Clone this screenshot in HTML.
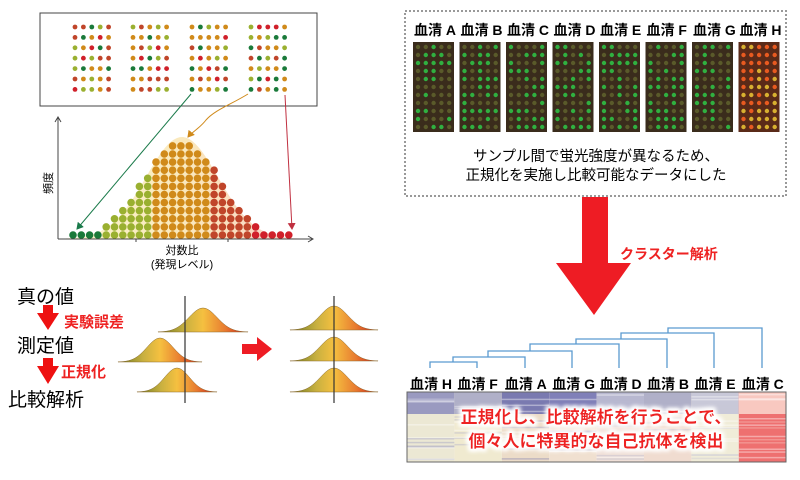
<!DOCTYPE html>
<html><head><meta charset="utf-8">
<style>
html,body{margin:0;padding:0;background:#fff;}
body{width:800px;height:475px;overflow:hidden;font-family:"Liberation Sans","Noto Sans CJK JP",sans-serif;}
svg text{font-family:"Liberation Sans","Noto Sans CJK JP",sans-serif;}
</style></head><body>
<svg id="s" width="800" height="475" viewBox="0 0 800 475" xmlns="http://www.w3.org/2000/svg">
<defs>
<linearGradient id="cg" x1="0" x2="1" y1="0" y2="0">
<stop offset="0" stop-color="#6b7a20"/><stop offset="0.3" stop-color="#c8b040"/><stop offset="0.5" stop-color="#f5c040"/><stop offset="0.75" stop-color="#e87a30"/><stop offset="1" stop-color="#d01818"/>
</linearGradient>
<linearGradient id="hb" x1="0" x2="1" y1="0" y2="0">
<stop offset="0" stop-color="#f6efb0"/><stop offset="0.5" stop-color="#f8dc98"/><stop offset="1" stop-color="#f5b8a8"/>
</linearGradient>
<filter id="glow"><feMorphology operator="dilate" radius="2" in="SourceAlpha" result="d"/><feGaussianBlur in="d" stdDeviation="2" result="b"/><feFlood flood-color="#fff"/><feComposite in2="b" operator="in"/><feMerge><feMergeNode/><feMergeNode/><feMergeNode in="SourceGraphic"/></feMerge></filter>
<marker id="ag" markerWidth="8" markerHeight="8" refX="6" refY="4" orient="auto"><path d="M0,0 L7,4 L0,8z" fill="#1a7a4a"/></marker>
<marker id="ao" markerWidth="8" markerHeight="8" refX="6" refY="4" orient="auto"><path d="M0,0 L7,4 L0,8z" fill="#d08a1a"/></marker>
<marker id="ar" markerWidth="8" markerHeight="8" refX="6" refY="4" orient="auto"><path d="M0,0 L7,4 L0,8z" fill="#c03040"/></marker>
</defs>
<rect x="40" y="13" width="277" height="93" fill="#fff" stroke="#444" stroke-width="1"/>
<g id="tl"></g>
<path id="hbg" fill="url(#hb)" opacity="0.65"/>
<g id="hist"></g>
<line x1="58" y1="239" x2="58" y2="118" stroke="#444" stroke-width="1"/>
<path d="M55,122 L58,117 L61,122" fill="none" stroke="#444"/>
<line x1="58" y1="239" x2="312" y2="239" stroke="#444" stroke-width="1"/>
<path d="M308,236 L313,239 L308,242" fill="none" stroke="#444"/>
<line x1="136" y1="239" x2="136" y2="242" stroke="#444"/><line x1="228" y1="239" x2="228" y2="242" stroke="#444"/>
<text x="52" y="183" font-size="11" transform="rotate(-90 52 183)" text-anchor="middle">頻度</text>
<text x="182" y="254" font-size="11" text-anchor="middle">対数比</text>
<text x="182" y="268" font-size="11" text-anchor="middle">(発現レベル)</text>
<path d="M191,94 L77,229" stroke="#1a7a4a" stroke-width="1" fill="none" marker-end="url(#ag)"/>
<path d="M248,94 C230,105 215,110 206,120 C200,128 192,132 188,137" stroke="#d08a1a" stroke-width="1" fill="none" marker-end="url(#ao)"/>
<path d="M285,95 L292,229" stroke="#c03040" stroke-width="1" fill="none" marker-end="url(#ar)"/>

<text x="17" y="303" font-size="19">真の値</text>
<text x="17" y="352" font-size="19">測定値</text>
<text x="8" y="406" font-size="19">比較解析</text>
<path d="M43,305 L53,305 L53,313 L59,313 L48,330 L37,313 L43,313z" fill="#ee1111"/>
<path d="M43,358 L53,358 L53,366 L59,366 L48,384 L37,366 L43,366z" fill="#ee1111"/>
<text x="64" y="327" font-size="15" font-weight="bold" fill="#ee2222">実験誤差</text>
<text x="61" y="377" font-size="15" font-weight="bold" fill="#ee2222">正規化</text>
<g id="curves"></g>
<line x1="185" y1="296" x2="185" y2="403" stroke="#333" stroke-width="1.2"/>
<line x1="334" y1="296" x2="334" y2="403" stroke="#333" stroke-width="1.2"/>
<path d="M242,344 L257,344 L257,337 L272,349 L257,361 L257,354 L242,354z" fill="#ee1c24"/>

<rect x="405" y="11" width="381" height="185" fill="#fff" stroke="#999" stroke-width="2" stroke-dasharray="2,2"/>
<g id="rt"></g>
<text x="596" y="161" font-size="14.5" text-anchor="middle">サンプル間で蛍光強度が異なるため、</text>
<text x="596" y="180" font-size="14.5" text-anchor="middle">正規化を実施し比較可能なデータにした</text>
<path d="M582,197 L608,197 L608,263 L631,263 L594,315 L556,263 L582,263z" fill="#ee1c24"/>
<text x="620" y="259" font-size="14" font-weight="bold" fill="#ee2222">クラスター解析</text>
<g stroke="#5a9ad0" stroke-width="1.3" fill="none">
<path d="M430,368 V362 H477 V368"/>
<path d="M453,362 V357 H525 V368"/>
<path d="M488,357 V351 H572 V368"/>
<path d="M530,351 V344 H619 V368"/>
<path d="M576,344 V339 H667 V368"/>
<path d="M621,339 V333 H714 V368"/>
<path d="M668,333 V328 H762 V368"/>
</g>
<g id="hl"></g>
<g id="heat"></g>
<rect x="407" y="392" width="379" height="70" fill="none" stroke="#666" stroke-width="1"/>
<g filter="url(#glow)">
<text x="596" y="423" font-size="17" font-weight="bold" fill="#ee2222" text-anchor="middle">正規化し、比較解析を行うことで、</text>
<text x="596" y="447" font-size="17" font-weight="bold" fill="#ee2222" text-anchor="middle">個々人に特異的な自己抗体を検出</text>
</g>
</svg>
<script>
var NS="http://www.w3.org/2000/svg";
function el(p,t,a){var e=document.createElementNS(NS,t);for(var k in a)e.setAttribute(k,a[k]);document.getElementById(p).appendChild(e);return e;}
var pal=["#1a7a3a","#9ab030","#d08a1a","#c0452a","#d0202a","#d08a1a","#d08a1a"];
var seed=7;function rnd(){seed=(seed*9301+49297)%233280;return seed/233280;}
[75,133,192,251].forEach(function(x0){for(var r=0;r<7;r++)for(var c=0;c<5;c++){el("tl","circle",{cx:x0+c*8.4,cy:27+r*10.4,r:2.4,fill:pal[Math.floor(rnd()*7)]});}});
var d="M66,239";
for(var i=0;i<27;i++){var x=73+i*8.3;var z=(x-182)/38;var h=Math.max(1,Math.round(12.2*Math.exp(-z*z/2)));
 if(i<2)h=1;
 var col=x<106?"#1a7a3a":x<150?"#9ab030":x<212?"#d08a1a":x<252?"#c0452a":"#d0202a";
 for(var j=0;j<h;j++)el("hist","circle",{cx:x,cy:235-j*8.1,r:3.8,fill:col});}
for(var x=66;x<=300;x+=3){var z=(x-182)/36;d+=" L"+x+","+(239-102*Math.exp(-z*z/2));}
d+=" L300,239z";document.getElementById("hbg").setAttribute("d",d);
function curve(cx,by,w){var p="M"+(cx-w)+","+by;for(var t=-w;t<=w;t+=2){var z=t/(w/3.2);p+=" L"+(cx+t)+","+(by-24*Math.exp(-z*z/2));}p+=" L"+(cx+w)+","+by+"z";
 el("curves","path",{d:p,fill:"url(#cg)",stroke:"#8a6a30","stroke-width":"0.5"});}
curve(203,332,45);curve(160,362,42);curve(177,392,40);
curve(334,330,44);curve(334,361,44);curve(334,392,44);
var labs=["A","B","C","D","E","F","G","H"];
for(var i=0;i<8;i++){var x=413+i*46.5;
 var t=el("rt","text",{x:x+1,y:35,"font-size":"14","font-weight":"bold"});t.textContent="血清 "+labs[i];
 el("rt","rect",{x:x,y:42,width:41,height:90,fill:i==7?"#5a2a18":"#3a2c1c"});
 for(var r=0;r<11;r++)for(var c=0;c<5;c++){var g=rnd();var fc=i==7?(g<0.5?"#e85a20":"#d8b030"):(g<0.45?"#30b040":"#5a5a2a");
 el("rt","circle",{cx:x+5+c*7.8,cy:47+r*8,r:2.2,fill:fc});}}
var hl=["H","F","A","G","D","B","E","C"];
var cols=[["#9a9ac0","#ece8d4"],["#b0b0c8","#f0ead0"],["#7a7ab0","#ecdcc8"],["#8080b8","#f0e0d0"],["#b8b8d0","#f0e0d8"],["#b0b0c8","#f0dcd0"],["#c8c8d8","#f0ecd8"],["#f8c8c0","#ee7070"]];
for(var i=0;i<8;i++){var x=407+i*47.4;
 var t=el("hl","text",{x:x+3,y:389,"font-size":"14","font-weight":"bold"});t.textContent="血清 "+hl[i];
 el("heat","rect",{x:x,y:392,width:47.4,height:70,fill:cols[i][1]});
 el("heat","rect",{x:x,y:392,width:47.4,height:22,fill:cols[i][0]});
 for(var k=0;k<14;k++){el("heat","rect",{x:x,y:392+rnd()*68,width:47.4,height:1.5,fill:rnd()<0.5?cols[i][0]:"#fff",opacity:0.4});}}
</script>
</body></html>
